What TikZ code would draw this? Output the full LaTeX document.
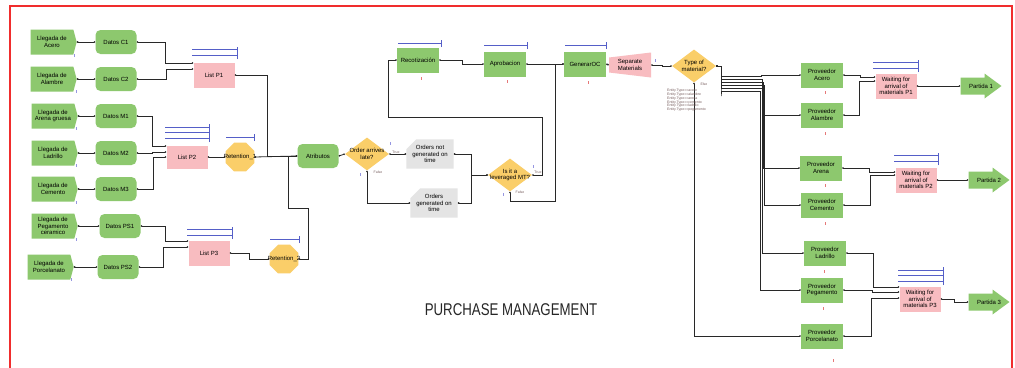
\documentclass[tikz,border=0pt]{standalone}
\usepackage{fontspec}
\setmainfont{Liberation Sans}
\usetikzlibrary{shapes.geometric,shapes.misc,shapes.symbols,arrows.meta}

\definecolor{greenFill}{RGB}{141,200,110}
\definecolor{pinkFill}{RGB}{248,188,192}
\definecolor{yellowFill}{RGB}{250,206,105}
\definecolor{grayFill}{RGB}{228,228,228}
\definecolor{queueColor}{RGB}{85,95,200}
\definecolor{frameColor}{RGB}{240,45,45}
\definecolor{lineColor}{RGB}{40,40,40}
\definecolor{markBlue}{RGB}{150,150,225}
\definecolor{markRed}{RGB}{230,120,120}
\definecolor{tinyText}{RGB}{120,95,95}

\newcommand{\blockfont}{\fontsize{6}{6.4}\selectfont}
\newcommand{\tinyfont}{\fontsize{3.5}{3.8}\selectfont}

% queue bars: x start, x end, y of lowest bar, number of bars
\newcommand{\queuebars}[4]{%
  \foreach \k in {1,...,#4}{
    \draw[qline] (#1,{#3-(\k-1)*5.5}) -- (#2,{#3-(\k-1)*5.5});}
  \draw[qline] (#2,{#3+4}) -- (#2,{#3-(#4-1)*5.5-3});}

% small counter marks below the blocks
\newcommand{\tickmark}[3]{\draw[#3,line width=0.6pt] (#1,#2) -- (#1,{#2+3});}

\begin{document}
\begin{tikzpicture}[x=1pt,y=-1pt,
  font=\blockfont,
  llegada/.style={signal,signal to=east,signal pointer angle=150,fill=greenFill,
    minimum width=46pt,minimum height=25pt,inner sep=1pt,align=center},
  datos/.style={rectangle,rounded corners=5pt,
    fill=greenFill,minimum width=41pt,minimum height=24pt,inner sep=1pt,align=center},
  proc/.style={rectangle,fill=greenFill,minimum width=42pt,minimum height=25pt,inner sep=1pt,align=center},
  listq/.style={rectangle,fill=pinkFill,minimum width=41pt,minimum height=25pt,inner sep=1pt,align=center},
  hold/.style={regular polygon,regular polygon sides=8,
    fill=yellowFill,minimum size=31pt,inner sep=0pt,
    label={[font=\blockfont]center:#1}},
  decide/.style={diamond,fill=yellowFill,minimum width=44pt,minimum height=33pt,inner sep=0pt,
    label={[font=\blockfont,align=center]center:#1}},
  note/.style={chamfered rectangle,chamfered rectangle corners=north west,
    chamfered rectangle xsep=5pt,chamfered rectangle ysep=5pt,
    fill=grayFill,minimum width=41pt,minimum height=25pt,inner sep=1pt,align=center},
  sepbox/.style={rectangle,minimum width=42pt,minimum height=25pt,inner sep=1pt,align=center,
    path picture={\fill[pinkFill] ([yshift=5pt]path picture bounding box.south west)
      -- (path picture bounding box.south east) -- (path picture bounding box.north east)
      -- ([yshift=-5pt]path picture bounding box.north west) -- cycle;}},
  partida/.style={rectangle,minimum width=41pt,minimum height=25pt,inner sep=1pt,
    path picture={\fill[greenFill] ([yshift=4pt]path picture bounding box.south west)
      -- ([xshift=-17pt,yshift=4pt]path picture bounding box.south east)
      -- ([xshift=-17pt]path picture bounding box.south east)
      -- (path picture bounding box.east)
      -- ([xshift=-17pt]path picture bounding box.north east)
      -- ([xshift=-17pt,yshift=-4pt]path picture bounding box.north east)
      -- ([yshift=-4pt]path picture bounding box.north west) -- cycle;}},
  conn/.style={draw=lineColor,line width=0.8pt,{Circle[length=1.6pt]}-{Circle[length=1.6pt]}},
  qline/.style={draw=queueColor,line width=0.8pt},
  tiny/.style={font=\tinyfont,text=tinyText,inner sep=0pt}]

\useasboundingbox (0,0) rectangle (1015,367);
\fill[white] (0,0) rectangle (1015,367);
\begin{scope}
\clip (0,0) rectangle (1015,367);
\draw[frameColor,line width=1.5pt] (10,6) rectangle (1012,420);
\end{scope}

% arrivals and data blocks
\node[llegada] (lla) at (52,42) {Llegada de\\Acero};
\node[llegada] (llb) at (52,79) {Llegada de\\Alambre};
\node[llegada] (llc) at (53,116) {Llegada de\\Arena gruesa};
\node[llegada] (lld) at (53,153) {Llegada de\\Ladrillo};
\node[llegada] (lle) at (53,189) {Llegada de\\Cemento};
\node[llegada] (llf) at (53,226) {Llegada de\\Pegamento\\ceramico};
\node[llegada] (llg) at (49,267) {Llegada de\\Porcelanato};

\node[datos] (dc1) at (116,42) {Datos C1};
\node[datos] (dc2) at (116,79) {Datos C2};
\node[datos] (dm1) at (116,116) {Datos M1};
\node[datos] (dm2) at (116,153) {Datos M2};
\node[datos] (dm3) at (116,189) {Datos M3};
\node[datos] (dps1) at (120,226) {Datos PS1};
\node[datos] (dps2) at (118,267) {Datos PS2};

\node[listq] (lp1) at (214,75) {List P1};
\node[listq,minimum height=23pt] (lp2) at (187,157) {List P2};
\node[listq] (lp3) at (209,253) {List P3};

\node[hold={Retention\_1}] (ret1) at (240,157) {};
\node[hold={Retention\_2}] (ret2) at (284,259) {};

\node[datos] (atr) at (318,156) {Atributos};

% decisions and orders
\node[decide={Order arrives\\late?}] (oal) at (367,154) {};
\node[note] (ong) at (430,154) {Orders not\\generated on\\time};
\node[note] (ogt) at (434,203) {Orders\\generated on\\time};
\node[decide={Is it a\\leveraged MT?}] (ilm) at (510,175) {};

\node[proc] (rec) at (418,60) {Recotización};
\node[proc] (apr) at (505,64) {Aprobacion};
\node[proc] (gen) at (585,64) {GenerarOC};
\node[sepbox] (sep) at (630,65) {Separate\\Materials};
\node[decide={Type of\\material?}] (tom) at (694,66) {};

% suppliers
\node[proc] (pac) at (822,75) {Proveedor\\Acero};
\node[proc] (pal) at (822,115) {Proveedor\\Alambre};
\node[proc] (par) at (821,168) {Proveedor\\Arena};
\node[proc] (pce) at (822,205) {Proveedor\\Cemento};
\node[proc] (pla) at (825,253) {Proveedor\\Ladrillo};
\node[proc] (ppe) at (822,290) {Proveedor\\Pegamento};
\node[proc] (ppo) at (822,336) {Proveedor\\Porcelanato};

\node[listq] (wp1) at (896,86) {Waiting for\\arrival of\\materials P1};
\node[listq] (wp2) at (916,180) {Waiting for\\arrival of\\materials P2};
\node[listq] (wp3) at (920,299) {Waiting for\\arrival of\\materials P3};

\node[partida] (pt1) at (981,86) {Partida 1};
\node[partida] (pt2) at (989,180) {Partida 2};
\node[partida] (pt3) at (989,302) {Partida 3};

% connectors, left part
\draw[conn] (lla.east) -- (dc1.west);
\draw[conn] (llb.east) -- (dc2.west);
\draw[conn] (llc.east) -- (dm1.west);
\draw[conn] (lld.east) -- (dm2.west);
\draw[conn] (lle.east) -- (dm3.west);
\draw[conn] (llf.east) -- (dps1.west);
\draw[conn] (llg.east) -- (dps2.west);
\draw[conn] (dc1.east) -- (165,42) |- ([yshift=12pt]lp1.west);
\draw[conn] (dc2.east) -- (166,79) |- ([yshift=6pt]lp1.west);
\draw[conn] (dm1.east) -- (152,116) |- ([yshift=11pt]lp2.west);
\draw[conn] (dm2.east) -- (152,153) |- ([yshift=5pt]lp2.west);
\draw[conn] (dm3.east) -- (153,189) |- (lp2.west);
\draw[conn] (dps1.east) -- (165,226) |- ([yshift=12pt]lp3.west);
\draw[conn] (dps2.east) -- (163,267) |- ([yshift=6pt]lp3.west);
\draw[conn] (lp2.east) -- (ret1.west);
\draw[conn] (lp3.east) -- (249,253) |- (ret2.west);
\draw[conn] (lp1.east) -- (267,75) |- (atr.west);
\draw[conn] (ret1.east) -- (atr.west);
\draw[conn] (ret2.east) -- (308,259) -- (308,208) -- (288,208) |- (atr.west);

% connectors, middle part
\draw[conn] (atr.east) -- (oal.west);
\draw[conn] (oal.east) -- (ong.west);
\draw[conn] (oal.south) |- (ogt.west);
\draw[conn] (ong.east) -- (471,154) |- (ilm.west);
\draw[conn] (ogt.east) -- (471,203) |- (ilm.west);
\draw[conn] (ilm.east) -- (542,175) -- (542,117) -- (388,117) |- (rec.west);
\draw[conn] (ilm.south) -- (510,201) -- (555,201) |- (gen.west);
\draw[conn] (rec.east) -- (462,60) |- (apr.west);
\draw[conn] (apr.east) -- (gen.west);
\draw[conn] (gen.east) -- (sep.west);
\draw[conn] (sep.east) -- (662,65) |- (tom.west);

% connectors, right part
\draw[conn] (tom.east) -- (721,66) -- (721,76) -- (761,76) |- (pac.west);
\draw[conn] (tom.east) -- (721,66) -- (721,79) -- (762,79) |- (pal.west);
\draw[conn] (tom.east) -- (721,66) -- (721,82) -- (763,82) |- (par.west);
\draw[conn] (tom.east) -- (721,66) -- (721,85) -- (764,85) |- (pce.west);
\draw[conn] (tom.east) -- (721,66) -- (721,88) -- (762,88) |- (pla.west);
\draw[conn] (tom.east) -- (721,66) -- (721,96) -- (721,91) -- (760,91) |- (ppe.west);
\draw[conn] (tom.south) |- (ppo.west);
\draw[conn] (pac.east) -- (860,75) |- ([yshift=9pt]wp1.west);
\draw[conn] (pal.east) -- (859,115) |- ([yshift=5pt]wp1.west);
\draw[conn] (par.east) -- (869,168) |- ([yshift=8pt]wp2.west);
\draw[conn] (pce.east) -- (870,205) |- ([yshift=5pt]wp2.west);
\draw[conn] (pla.east) -- (873,253) |- ([yshift=12pt]wp3.west);
\draw[conn] (ppe.east) -- (872,290) |- ([yshift=7pt]wp3.west);
\draw[conn] (ppo.east) -- (871,336) |- ([yshift=1pt]wp3.west);
\draw[conn] (wp1.east) -- (pt1.west);
\draw[conn] (wp2.east) -- (pt2.west);
\draw[conn] (wp3.east) -- (954,299) |- (pt3.west);

% queues
\queuebars{192}{237}{55}{2}
\queuebars{165}{209}{138}{3}
\queuebars{187}{232}{235}{2}
\queuebars{226}{254}{137}{1}
\queuebars{270}{299}{239}{1}
\queuebars{398}{441}{43}{1}
\queuebars{484}{527}{45}{1}
\queuebars{565}{606}{45}{1}
\queuebars{873}{918}{68}{2}
\queuebars{894}{938}{161}{2}
\queuebars{898}{943}{281}{3}

% branch labels
\node[tiny] (t1) at (396,152) {True};
\node[tiny] (f1) at (378,172) {False};
\node[tiny] (t2) at (538,172) {True};
\node[tiny] (f2) at (520,192) {False};
\node[tiny] (e1) at (704,84) {Else};
\node[tiny,anchor=north west,align=left] (cond) at (667,89)
  {Entity.Type==acero\\Entity.Type==alambre\\Entity.Type==arena\\Entity.Type==cemento\\Entity.Type==ladrillo\\Entity.Type==pegamento};

% counters
\tickmark{74}{54}{markBlue}
\tickmark{76}{90}{markBlue}
\tickmark{76}{127}{markBlue}
\tickmark{76}{164}{markBlue}
\tickmark{76}{201}{markBlue}
\tickmark{76}{238}{markBlue}
\tickmark{71}{278}{markBlue}
\tickmark{390}{142}{markBlue}
\tickmark{360}{173}{markBlue}
\tickmark{533}{165}{markBlue}
\tickmark{503}{193}{markBlue}
\tickmark{655}{59}{markBlue}
\tickmark{421}{77}{markRed}
\tickmark{507}{80}{markRed}
\tickmark{588}{81}{markRed}
\tickmark{825}{91}{markRed}
\tickmark{825}{132}{markRed}
\tickmark{825}{184}{markRed}
\tickmark{825}{222}{markRed}
\tickmark{824}{270}{markRed}
\tickmark{823}{307}{markRed}
\tickmark{833}{359}{markRed}

\node[text=black!85] (title) at (511,310) {\fontsize{17}{17}\selectfont\scalebox{0.78}[1]{PURCHASE MANAGEMENT}};
\end{tikzpicture}
\end{document}
